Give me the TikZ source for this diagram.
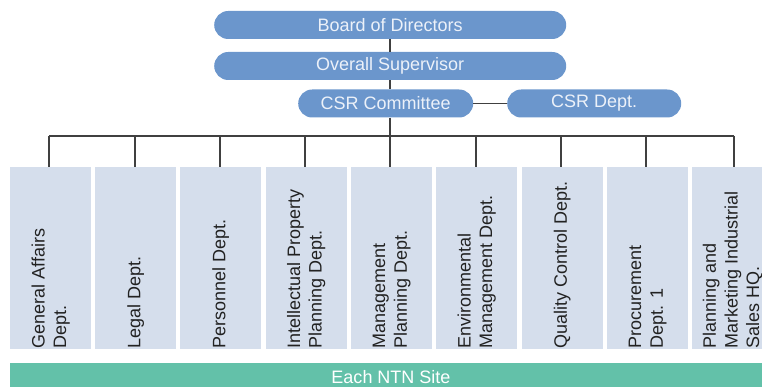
\documentclass[tikz,border=0pt]{standalone}
\usepackage{fontspec}
\setmainfont{Liberation Sans}
\usetikzlibrary{positioning}
\definecolor{topblue}{RGB}{107,150,204}
\definecolor{topfg}{RGB}{236,241,249}
\definecolor{deptbg}{RGB}{213,222,236}
\definecolor{deptfg}{RGB}{34,34,34}
\definecolor{sitebg}{RGB}{99,193,169}
\definecolor{linegray}{RGB}{64,64,64}
\begin{document}
\begin{tikzpicture}[x=1pt,y=-1pt,
  every node/.style={font=\fontsize{18}{21.7}\selectfont},
  pill/.style={fill=topblue,text=topfg,rounded corners=14pt,minimum height=28pt,inner sep=0pt,anchor=west},
  deptbox/.style={fill=deptbg,minimum width=81pt,minimum height=182pt,inner sep=0pt,anchor=north west},
  depttext/.style={rotate=90,anchor=west,align=left,text=deptfg,inner sep=1pt},
  conn/.style={draw=linegray,line width=1.3pt}]
\useasboundingbox (0,0) rectangle (762,387);
\clip (0,0) rectangle (762,387);
% top blue pills
\node[pill,minimum width=352pt] (board) at (214,25) {Board of Directors};
\node[pill,minimum width=352pt] (super) at (214,66) {Overall Supervisor};
\node[pill,minimum width=175pt] (comm) at (298,103.5) {CSR Committee};
\node[pill,minimum width=174pt] (csrd) at (507,103.5) {CSR Dept.};
% department boxes
\node[deptbox] (d1) at (10,167) {};
\node[deptbox] (d2) at (95,167) {};
\node[deptbox] (d3) at (180,167) {};
\node[deptbox] (d4) at (265.5,167) {};
\node[deptbox] (d5) at (351,167) {};
\node[deptbox] (d6) at (436,167) {};
\node[deptbox] (d7) at (521.5,167) {};
\node[deptbox] (d8) at (607,167) {};
\node[deptbox] (d9) at (692,167) {};
\node[depttext] (t1) at (d1.south) {General Affairs\\Dept.};
\node[depttext] (t2) at (d2.south) {Legal Dept.};
\node[depttext] (t3) at (d3.south) {Personnel Dept.};
\node[depttext] (t4) at (d4.south) {Intellectual Property\\Planning Dept.};
\node[depttext] (t5) at (d5.south) {Management\\Planning Dept.};
\node[depttext] (t6) at (d6.south) {Environmental\\Management Dept.};
\node[depttext] (t7) at (d7.south) {Quality Control Dept.};
\node[depttext] (t8) at (d8.south) {Procurement\\Dept. 1};
\node[depttext] (t9) at (d9.south) {Planning and\\Marketing Industrial\\Sales HQ.};
% site bar
\node[fill=sitebg,minimum height=31pt,minimum width=760pt,inner sep=0pt,anchor=north west] (site) at (10,363) {};
\node[text=white,inner sep=0pt] (sitetext) at (391,377.5) {Each NTN Site};
% connectors
\coordinate (busL) at (49,136);
\coordinate (busR) at (734,136);
\coordinate (busM) at (390,136);
\draw[conn] (busL) -- (busR);
\draw[conn] (board.south -| busM) -- (super.north -| busM);
\draw[conn] (super.south -| busM) -- (comm.north -| busM);
\draw[conn] (comm.south -| busM) -- (busM);
\draw[conn] (comm.east) -- (csrd.west);
\foreach \i/\x in {1/49,2/135,3/220,4/305,5/390,6/476,7/561,8/646,9/734}{
  \draw[conn] (\x,136) -- (d\i.north -| {(\x,0)});
}
\end{tikzpicture}
\end{document}
